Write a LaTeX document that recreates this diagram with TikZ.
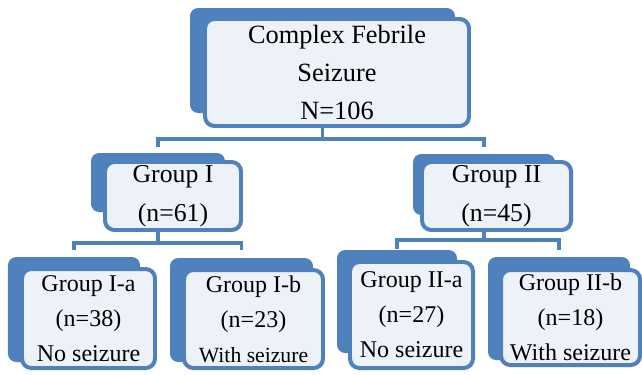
\documentclass[tikz,border=0pt]{standalone}
\usepackage{fontspec}
\setmainfont{Liberation Serif}
\usetikzlibrary{positioning}
\definecolor{smblue}{RGB}{79,129,189}
\definecolor{smpale}{RGB}{237,242,249}
\tikzset{
  backbox/.style={fill=smblue, rounded corners=7pt, inner sep=0pt},
  frontbox/.style={draw=smblue, line width=3.4pt, fill=smpale, rounded corners=8pt, inner sep=0pt, align=center},
  link/.style={draw=smblue, line width=3.2pt},
  bigtext/.style={font=\fontsize{22.5}{32.5}\selectfont},
  grouptext/.style={font=\fontsize{22}{33}\selectfont},
  subtext/.style={font=\fontsize{20.5}{30}\selectfont},
}

\begin{document}
\begin{tikzpicture}[on grid]
\useasboundingbox (0,0) rectangle (19.26,-11.22);

% blue plates behind
\node[backbox, minimum width=7.95cm, minimum height=3.15cm] (cfs) at (9.675,-1.815) {};
\node[backbox, minimum width=4.02cm, minimum height=1.77cm, below left=3.66cm and 4.935cm of cfs] (g1) {};
\node[backbox, minimum width=4.26cm, minimum height=1.83cm, below right=3.72cm and 4.845cm of cfs] (g2) {};
\node[backbox, minimum width=3.96cm, minimum height=3.15cm, below left=3.81cm and 2.52cm of g1] (g1a) {};
\node[backbox, minimum width=4.29cm, minimum height=3.12cm, below right=3.825cm and 2.505cm of g1] (g1b) {};
\node[backbox, minimum width=3.60cm, minimum height=3.09cm, below left=3.51cm and 2.61cm of g2] (g2a) {};
\node[backbox, minimum width=4.26cm, minimum height=3.09cm, below right=3.72cm and 2.25cm of g2] (g2b) {};

% connector ends
\coordinate[above=0.18cm of g1.north] (g1in);
\coordinate[above=0.21cm of g2.north] (g2in);
\coordinate[above=0.21cm of g1a.north] (g1ain);
\coordinate[above=0.24cm of g1b.north] (g1bin);
\coordinate[above=0.03cm of g2a.north] (g2ain);
\coordinate[above=0.21cm of g2b.north] (g2bin);

\draw[link] (cfs.south) -- ++(0,-0.78) -| (g1in);
\draw[link] (cfs.south) -- ++(0,-0.78) -| (g2in);
\draw[link] (g1.south) -- ++(0,-0.93) -| (g1ain);
\draw[link] (g1.south) -- ++(0,-0.93) -| (g1bin);
\draw[link] (g2.south) -- ++(0,-0.75) -| (g2ain);
\draw[link] (g2.south) -- ++(0,-0.75) -| (g2bin);

% text boxes in front
\node[frontbox, bigtext, minimum width=7.92cm, minimum height=3.21cm, below right=0.36cm and 0.435cm of cfs] (cfsT) {Complex Febrile\\Seizure\\N=106};
\node[frontbox, grouptext, minimum width=4.08cm, minimum height=2.04cm, below right=0.405cm and 0.45cm of g1] (g1T) {Group I\\(n=61)};
\node[frontbox, grouptext, minimum width=4.47cm, minimum height=2.04cm, below right=0.345cm and 0.375cm of g2] (g2T) {Group II\\(n=45)};
\node[frontbox, subtext, minimum width=3.99cm, minimum height=2.97cm, below right=0.27cm and 0.435cm of g1a] (g1aT) {Group I-a\\(n=38)\\No seizure};
\node[frontbox, subtext, minimum width=4.17cm, minimum height=2.94cm, below right=0.27cm and 0.36cm of g1b] (g1bT) {Group I-b\\(n=23)\\{\fontsize{18.5}{30}\selectfont With seizure}};
\node[frontbox, subtext, minimum width=3.69cm, minimum height=3.18cm, below right=0.405cm and 0.435cm of g2a] (g2aT) {Group II-a\\(n=27)\\No seizure};
\node[frontbox, subtext, minimum width=4.17cm, minimum height=2.85cm, below right=0.27cm and 0.345cm of g2b] (g2bT) {Group II-b\\(n=18)\\With seizure};
\end{tikzpicture}
\end{document}
